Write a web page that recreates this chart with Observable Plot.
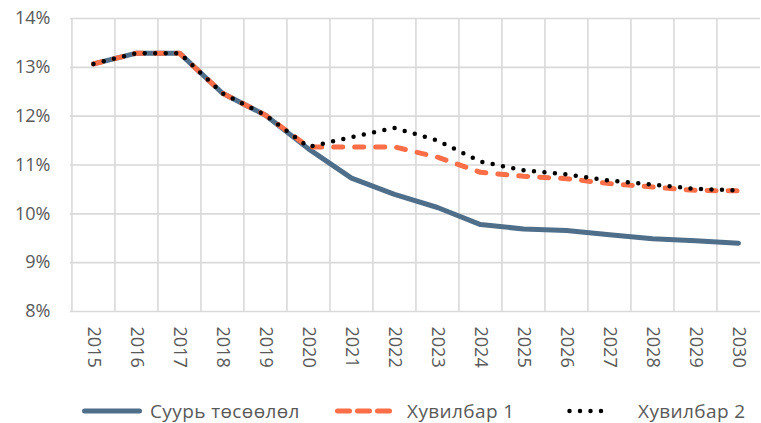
<!DOCTYPE html>
<html>
<head>
<meta charset="utf-8">
<script src="https://cdn.jsdelivr.net/npm/d3@7"></script>
<script src="https://cdn.jsdelivr.net/npm/@observablehq/plot@0.6"></script>
<style>
  html, body { margin: 0; padding: 0; background: #fff; }
  body { width: 761px; height: 423px; position: relative; overflow: hidden; font-family: "Open Sans", "Noto Sans", sans-serif; }
  #legend { position: absolute; left: 0; top: 0; width: 761px; height: 423px; pointer-events: none; }
  .item { position: absolute; top: 400px; height: 22px; line-height: 22px; display: flex; align-items: center; color: #595959; font-size: 19px; letter-spacing: 0.4px; white-space: nowrap; }
</style>
</head>
<body>
<div id="chart"></div>
<div id="legend"></div>
<script>
const years = ["2015","2016","2017","2018","2019","2020","2021","2022","2023","2024","2025","2026","2027","2028","2029","2030"];
const seriesNames = ["Суурь төсөөлөл", "Хувилбар 1", "Хувилбар 2"];
const baseline  = [13.07, 13.29, 13.29, 12.47, 12.02, 11.33, 10.73, 10.40, 10.13, 9.78, 9.69, 9.66, 9.57, 9.49, 9.45, 9.40];
const scenario1 = [13.07, 13.29, 13.29, 12.47, 12.02, 11.37, 11.37, 11.37, 11.16, 10.85, 10.77, 10.72, 10.62, 10.55, 10.48, 10.47];
const scenario2 = [13.07, 13.29, 13.29, 12.47, 12.02, 11.37, 11.57, 11.76, 11.50, 11.07, 10.89, 10.81, 10.68, 10.60, 10.51, 10.48];
const yTicks = [8, 9, 10, 11, 12, 13, 14];

const colors = ["#4f6e8a", "#fc6e47", "#000000"];
const toRows = (vals) => years.map((y, i) => ({year: y, value: vals[i]}));

const width = 761, height = 385, mL = 70, mR = 1;
const step = (width - mL - mR) / years.length;

const chart = Plot.plot({
  width, height,
  marginTop: 18, marginBottom: 74, marginLeft: mL, marginRight: mR,
  style: {fontFamily: '"Open Sans", "Noto Sans", sans-serif', fontSize: "18px", color: "#595959", background: "#fff"},
  x: {type: "point", domain: years, padding: 0.5, align: 0.5, label: null},
  y: {domain: [8, 14], label: null},
  marks: [
    Plot.ruleY(yTicks, {y: d => d, stroke: "#d9d9d9", strokeWidth: 1.6, strokeOpacity: 1}),
    Plot.ruleX(years, {x: d => d, dx: -step / 2, stroke: "#d9d9d9", strokeWidth: 1.6, strokeOpacity: 1}),
    Plot.axisY({ticks: yTicks, tickFormat: d => d + "%", tickSize: 0, tickPadding: 20, fontSize: 18, fill: "#595959", label: null}),
    Plot.axisX({tickRotate: 90, tickSize: 0, tickPadding: 15, fontSize: 18, fill: "#595959", label: null}),
    Plot.line(toRows(baseline), {x: "year", y: "value", stroke: colors[0], strokeWidth: 5, strokeLinecap: "round", strokeLinejoin: "round"}),
    Plot.line(toRows(scenario1), {x: "year", y: "value", stroke: colors[1], strokeWidth: 5, strokeDasharray: "9,12", strokeLinecap: "round", strokeLinejoin: "round"}),
    Plot.line(toRows(scenario2), {x: "year", y: "value", stroke: colors[2], strokeWidth: 4.5, strokeDasharray: "0,10.5", strokeLinecap: "round", strokeLinejoin: "round"})
  ]
});
document.getElementById("chart").appendChild(chart);

// Legend
const legend = document.getElementById("legend");
const lefts = [82, 335, 567];
const swatchW = [60, 60, 47];
const gaps = [8, 12, 24];
const dashes = ["", "12,8", "0,10.5"];
const widths = [5, 5, 4.5];
seriesNames.forEach((name, i) => {
  const item = document.createElement("div");
  item.className = "item";
  item.style.left = lefts[i] + "px";
  const ns = "http://www.w3.org/2000/svg";
  const svg = document.createElementNS(ns, "svg");
  svg.setAttribute("width", swatchW[i]);
  svg.setAttribute("height", 10);
  svg.style.marginRight = gaps[i] + "px";
  const ln = document.createElementNS(ns, "line");
  ln.setAttribute("x1", 2.5); ln.setAttribute("x2", swatchW[i] - 2.5);
  ln.setAttribute("y1", 5); ln.setAttribute("y2", 5);
  ln.setAttribute("stroke", colors[i]);
  ln.setAttribute("stroke-width", widths[i]);
  ln.setAttribute("stroke-linecap", "round");
  if (dashes[i]) ln.setAttribute("stroke-dasharray", dashes[i]);
  svg.appendChild(ln);
  item.appendChild(svg);
  const t = document.createElement("span");
  t.textContent = name;
  item.appendChild(t);
  legend.appendChild(item);
});
</script>
</body>
</html>
